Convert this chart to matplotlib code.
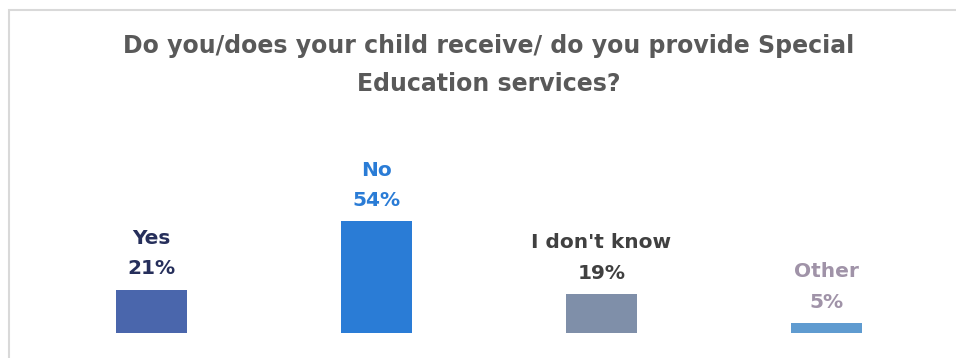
import matplotlib
matplotlib.use('Agg')
import matplotlib.pyplot as plt
from matplotlib.patches import Rectangle

categories = ['Yes', 'No', "I don't know", 'Other']
values = [21, 54, 19, 5]
bar_colors = ['#4A66AC', '#2A7CD6', '#7F8FA9', '#5F9BD0']
label_colors = ['#262F5B', '#2A7CD6', '#404040', '#A093A8']
title = 'Do you/does your child receive/ do you provide Special\nEducation services?'

W, H = 956, 358
fig = plt.figure(figsize=(W / 100, H / 100), dpi=100)

# chart area border (cropped screenshot: only top and left edges visible)
fig.add_artist(Rectangle((8.5 / W, -0.1), 1.2, (H - 9.5) / H + 0.1,
                         transform=fig.transFigure, fill=False,
                         edgecolor='#D9D9D9', linewidth=1.5))

ax = fig.add_axes([39 / W, 25 / H, 900 / W, 207 / H])
x = range(len(categories))
bars = ax.bar(x, values, width=0.315, color=bar_colors)
ax.set_xlim(-0.5, 3.5)
ax.set_ylim(0, 100)
ax.axis('off')

for i, (b, v) in enumerate(zip(bars, values)):
    ax.annotate(f'{categories[i]}\n{v}%', (b.get_x() + b.get_width() / 2, v),
                xytext=(0, 8), textcoords='offset points',
                ha='center', va='bottom', fontsize=14.5, fontweight='bold',
                color=label_colors[i], linespacing=1.75, annotation_clip=False)

fig.text(489 / W, 1 - 34 / H, title, ha='center', va='top', fontsize=17,
         fontweight='bold', color='#595959', linespacing=1.75)

fig.savefig('out.png', dpi=100)
